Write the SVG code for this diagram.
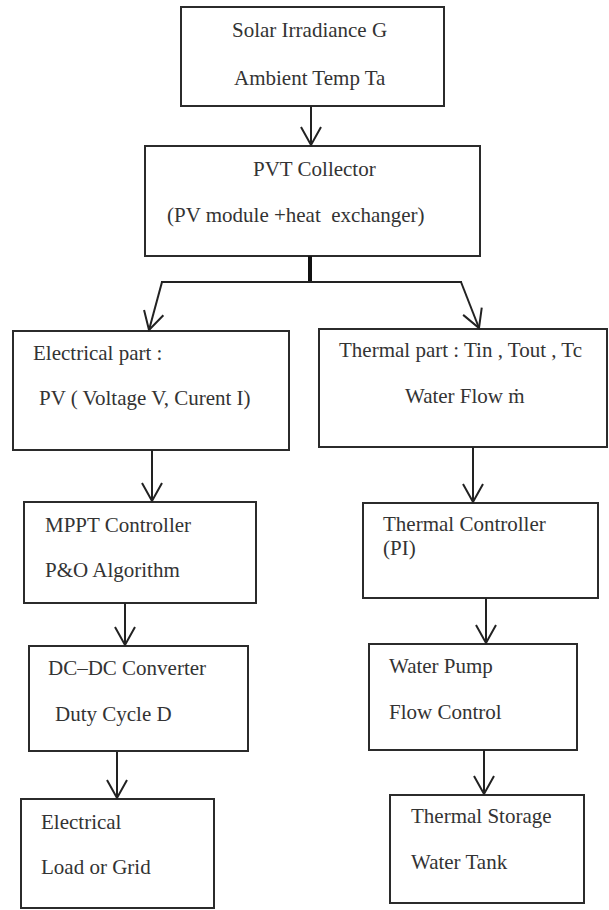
<svg xmlns="http://www.w3.org/2000/svg" width="609" height="910" viewBox="0 0 609 910">
<style>
.box{fill:#fff;stroke:#2b2b2b;stroke-width:2}
.t{font-family:"Liberation Serif","Times New Roman",serif;font-size:21px;fill:#333}
.c{fill:none;stroke:#222;stroke-width:2}
</style>
<defs>
<marker id="ah" markerUnits="userSpaceOnUse" markerWidth="30" markerHeight="30" refX="0" refY="0" orient="auto" overflow="visible">
<path d="M-18,-10 L0,0 L-18,10" fill="none" stroke="#222" stroke-width="2"/>
</marker>
</defs>
<rect width="609" height="910" fill="#fff"/>
<g id="n-input">
<rect class="box" x="181" y="7" width="263" height="99"/>
<text class="t" x="232" y="37">Solar Irradiance G</text>
<text class="t" x="234" y="85">Ambient Temp Ta</text>
</g>
<g id="n-pvt">
<rect class="box" x="145" y="146" width="335" height="110"/>
<text class="t" x="253" y="176">PVT Collector</text>
<text class="t" x="167" y="222" style="white-space:pre">(PV module +heat  exchanger)</text>
</g>
<g id="n-elec">
<rect class="box" x="13" y="331" width="276" height="119"/>
<text class="t" x="33" y="360">Electrical part :</text>
<text class="t" x="39" y="405">PV ( Voltage V, Curent I)</text>
</g>
<g id="n-therm">
<rect class="box" x="319" y="329" width="288" height="118"/>
<text class="t" x="339" y="357">Thermal part : Tin , Tout , Tc</text>
<text class="t" x="405" y="403">Water Flow ṁ</text>
</g>
<g id="n-mppt">
<rect class="box" x="24" y="502" width="232" height="101"/>
<text class="t" x="45" y="532">MPPT Controller</text>
<text class="t" x="45" y="577">P&amp;O Algorithm</text>
</g>
<g id="n-dcdc">
<rect class="box" x="29" y="646" width="219" height="105"/>
<text class="t" x="48" y="675">DC–DC Converter</text>
<text class="t" x="55" y="721">Duty Cycle D</text>
</g>
<g id="n-load">
<rect class="box" x="21" y="799" width="193" height="109"/>
<text class="t" x="41" y="829">Electrical</text>
<text class="t" x="41" y="874">Load or Grid</text>
</g>
<g id="n-tctrl">
<rect class="box" x="363" y="503" width="235" height="95"/>
<text class="t" x="383" y="531">Thermal Controller</text>
<text class="t" x="383" y="555">(PI)</text>
</g>
<g id="n-pump">
<rect class="box" x="369" y="644" width="208" height="106"/>
<text class="t" x="389" y="673">Water Pump</text>
<text class="t" x="389" y="719">Flow Control</text>
</g>
<g id="n-store">
<rect class="box" x="390" y="795" width="194" height="108"/>
<text class="t" x="411" y="823">Thermal Storage</text>
<text class="t" x="411" y="869">Water Tank</text>
</g>
<g id="connectors">
<line class="c" x1="311" y1="106" x2="311" y2="145" marker-end="url(#ah)"/>
<line x1="310" y1="256" x2="310" y2="283" stroke="#111" stroke-width="4"/>
<line class="c" x1="161" y1="282" x2="462" y2="282"/>
<line class="c" x1="162" y1="282" x2="149" y2="330" marker-end="url(#ah)"/>
<line class="c" x1="461" y1="282" x2="479" y2="328" marker-end="url(#ah)"/>
<line class="c" x1="152" y1="450" x2="152" y2="501" marker-end="url(#ah)"/>
<line class="c" x1="125" y1="603" x2="125" y2="645" marker-end="url(#ah)"/>
<line class="c" x1="117" y1="752" x2="117" y2="798" marker-end="url(#ah)"/>
<line class="c" x1="473" y1="447" x2="473" y2="502" marker-end="url(#ah)"/>
<line class="c" x1="486" y1="598" x2="486" y2="643" marker-end="url(#ah)"/>
<line class="c" x1="484" y1="750" x2="484" y2="794" marker-end="url(#ah)"/>
</g>
</svg>
